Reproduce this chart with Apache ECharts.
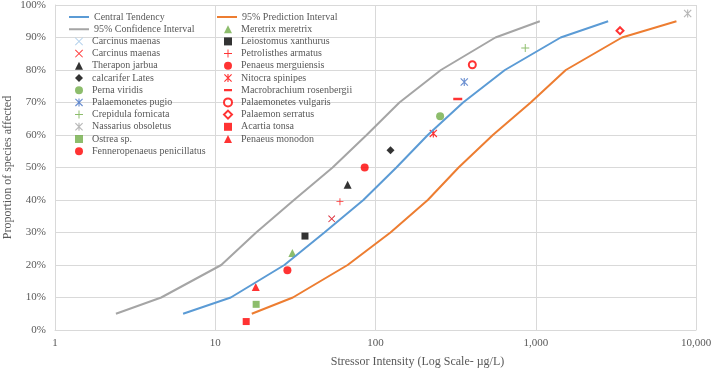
<!DOCTYPE html>
<html>
<head>
<meta charset="utf-8">
<script src="https://cdn.jsdelivr.net/npm/echarts@6/dist/echarts.min.js"></script>
<style>
  html, body { margin: 0; padding: 0; background: #fff; }
  #chart { width: 711px; height: 372px; }
</style>
</head>
<body>
<div id="chart"></div>
<script>
// curve levels (% of species) shared by the three fitted lines
const curveY = [5, 10, 20, 30, 40, 50, 60, 70, 80, 90, 95]
const centralX = [6.3, 12.5, 27, 48, 84, 135, 212, 352, 642, 1430, 2830]
const confidenceX = [2.4, 4.6, 10.9, 18, 31, 54, 88, 141, 256, 560, 1060]
const predictionX = [16.9, 30.5, 67, 124, 212, 330, 540, 930, 1540, 3450, 7550]

// species points, first ten sit in legend column 1, the rest in column 2
const speciesNames = [
  'Carcinus maenas', 'Carcinus maenas ', 'Therapon jarbua', 'calcarifer Lates',
  'Perna viridis', 'Palaemonetes pugio', 'Crepidula fornicata', 'Nassarius obsoletus',
  'Ostrea sp.', 'Fenneropenaeus penicillatus',
  'Meretrix meretrix', 'Leiostomus xanthurus', 'Petrolisthes armatus', 'Penaeus merguiensis',
  'Nitocra spinipes', 'Macrobrachium rosenbergii', 'Palaemonetes vulgaris', 'Palaemon serratus',
  'Acartia tonsa', 'Penaeus monodon'
]
const speciesX = [53.3, 53.3, 67, 124, 253, 358, 860, 8870, 18, 28.2,
  30.3, 36.3, 60, 85.6, 229.5, 326, 402, 3356, 15.6, 17.9]
const speciesY = [34.2, 34.2, 44.7, 55.3, 65.8, 76.3, 86.8, 97.4, 7.9, 18.4,
  23.7, 28.9, 39.5, 50.0, 60.5, 71.1, 81.6, 92.1, 2.6, 13.2]

const xTickLabels = { 1: '1', 10: '10', 100: '100', 1000: '1,000', 10000: '10,000' }

// marker shapes (Excel style)
const crossSym = 'path://M0,0.8L0.8,0L10,9.2L9.2,10ZM9.2,0L10,0.8L0.8,10L0,9.2Z'
const plusSym = 'path://M4.4,0L5.6,0L5.6,10L4.4,10ZM0,4.4L10,4.4L10,5.6L0,5.6Z'
const starSym = 'path://M0,1L1,0L10,9L9,10ZM9,0L10,1L1,10L0,9ZM4.3,0L5.7,0L5.7,10L4.3,10Z'
const dashSym = 'path://M0,3.6L10,3.6L10,6.4L0,6.4ZM5,0L5.01,0L5.01,0.01ZM5,10L5.01,10L5.01,9.99Z'
const lineIcon = 'path://M0,3L20,3L20,5L0,5ZM0,0L0.01,0L0,0.01ZM0,8L0.01,8L0,7.99Z'

const markerStyles = [
  [crossSym, '#9DC3E6', 7], [crossSym, '#FF0000', 7], ['triangle', '#000000', 8],
  ['diamond', '#000000', 8], ['circle', '#70AD47', 8], [starSym, '#4472C4', 8],
  [plusSym, '#70AD47', 8], [starSym, '#A5A5A5', 8], ['rect', '#70AD47', 7],
  ['circle', '#FF0000', 8],
  ['triangle', '#70AD47', 8], ['rect', '#000000', 7], [plusSym, '#FF0000', 7],
  ['circle', '#FF0000', 8], [starSym, '#FF0000', 8], [dashSym, '#FF0000', 9],
  ['emptyCircle', '#FF0000', 7], ['emptyDiamond', '#FF0000', 7], ['rect', '#FF0000', 7],
  ['triangle', '#FF0000', 8]
]

const font = 'Liberation Serif'
const textColor = '#595959'
const gridColor = '#D9D9D9'
const rowH = 12.2

const lineSeries = (name, xs, color) => ({
  name: name,
  type: 'line',
  data: xs.map((x, i) => [x, curveY[i]]),
  symbol: 'none',
  lineStyle: { color: color, width: 2 },
  itemStyle: { color: color }
})

const series = [
  lineSeries('Central Tendency', centralX, '#5B9BD5'),
  lineSeries('95% Prediction Interval', predictionX, '#ED7D31'),
  lineSeries('95% Confidence Interval', confidenceX, '#A5A5A5')
]

speciesNames.forEach((name, i) => {
  const [symbol, color, size] = markerStyles[i]
  const empty = symbol.indexOf('empty') === 0
  series.push({
    name: name,
    type: 'scatter',
    data: [[speciesX[i], speciesY[i]]],
    symbol: symbol,
    symbolSize: size,
    itemStyle: empty ? { color: color, borderWidth: 1.5 } : { color: color }
  })
})

const legendBase = {
  orient: 'vertical',
  itemHeight: 8,
  itemGap: rowH - 12,
  selectedMode: false,
  padding: 0,
  formatter: name => name.trim(),
  textStyle: { fontFamily: font, fontSize: 10, color: textColor, lineHeight: 12 }
}
const lineLegend = (left, top, names) => Object.assign({}, legendBase, {
  left: left, top: top, itemWidth: 20,
  data: names.map(n => ({ name: n, icon: lineIcon }))
})
const markerLegend = (left, top, names) => Object.assign({}, legendBase, {
  left: left, top: top, itemWidth: 8,
  textStyle: Object.assign({}, legendBase.textStyle, { padding: [0, 0, 0, 4] }),
  data: names
})

const chart = echarts.init(document.getElementById('chart'))
chart.setOption({
  animation: false,
  backgroundColor: '#fff',
  grid: { left: 55, right: 15, top: 5, bottom: 42, outerBoundsMode: 'none' },
  legend: [
    lineLegend(69, 11, ['Central Tendency', '95% Confidence Interval']),
    markerLegend(75, 11 + 2 * rowH, speciesNames.slice(0, 10)),
    lineLegend(217, 11, ['95% Prediction Interval']),
    markerLegend(223, 11 + rowH, speciesNames.slice(10))
  ],
  xAxis: {
    type: 'log',
    logBase: 10,
    min: 1,
    max: 10000,
    name: 'Stressor Intensity (Log Scale- µg/L)',
    nameLocation: 'middle',
    nameGap: 26,
    nameMoveOverlap: false,
    nameTextStyle: { fontFamily: font, fontSize: 12, color: textColor, padding: [0, 0, 0, 84] },
    axisLine: { lineStyle: { color: gridColor } },
    axisTick: { show: false },
    splitLine: { show: true, lineStyle: { color: gridColor } },
    axisLabel: {
      fontFamily: font, fontSize: 11, color: textColor, margin: 8,
      formatter: v => xTickLabels[Math.round(v)] || ''
    }
  },
  yAxis: {
    type: 'value',
    min: 0,
    max: 100,
    interval: 10,
    name: 'Proportion of species affected',
    nameLocation: 'middle',
    nameGap: 41,
    nameMoveOverlap: false,
    nameTextStyle: { fontFamily: font, fontSize: 12, color: textColor },
    axisLine: { show: true, lineStyle: { color: gridColor } },
    axisTick: { show: false },
    splitLine: { show: true, lineStyle: { color: gridColor } },
    axisLabel: { fontFamily: font, fontSize: 11, color: textColor, margin: 9, formatter: '{value}%' }
  },
  series: series
})
</script>
</body>
</html>
